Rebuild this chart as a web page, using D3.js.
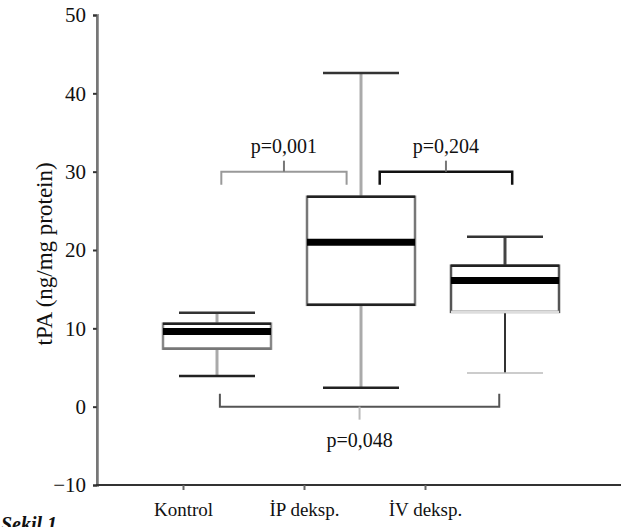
<!DOCTYPE html>
<html>
<head>
<meta charset="utf-8">
<script src="https://cdn.jsdelivr.net/npm/d3@7"></script>
<style>
  body { margin: 0; background: #fff; }
  text { font-family: "Liberation Serif", "Times New Roman", serif; }
</style>
</head>
<body>
<div id="chart"></div>
<script>
// data
let groups = ["Kontrol", "İP deksp.", "İV deksp."]
let whiskerLow = [3.9, 2.4, 4.3]
let q1 = [7.4, 13.0, 12.1]
let median = [9.6, 21.0, 16.1]
let q3 = [10.6, 26.8, 18.0]
let whiskerHigh = [12.0, 42.6, 21.7]
let yTicks = [-10, 0, 10, 20, 30, 40, 50]

// brackets: from group index a to b at level y, label text
let bracketFrom = [0.03, 1.13, 0.02]
let bracketTo = [0.9, 2.05, 1.96]
let bracketY = [30, 30, 0]
let bracketLabels = ["p=0,001", "p=0,204", "p=0,048"]

var width = 621, height = 527

var svg = d3.select("#chart").append("svg")
    .attr("width", width)
    .attr("height", height)

var y = d3.scaleLinear().domain([-10, 50]).range([485, 15])
// category labels sit under the ticks
var xLab = d3.scalePoint().domain(groups).range([183, 425])
// boxes are drawn shifted to the right of the ticks
var xBox = d3.scaleLinear().domain([0, 2]).range([217, 505])

var boxW = 108, capW = 76

// y axis
var yAxis = svg.append("g")
    .attr("transform", "translate(97,0)")
    .call(d3.axisLeft(y).tickValues(yTicks).tickSize(4).tickPadding(7).tickFormat(d3.format("d")))
yAxis.select(".domain").attr("stroke", "#999").attr("stroke-width", 3)
yAxis.selectAll(".tick line").attr("stroke", "#333").attr("stroke-width", 2)
yAxis.selectAll(".tick text").attr("font-size", 21).attr("fill", "#111")
svg.append("line")
    .attr("x1", 97).attr("x2", 97).attr("y1", y(50)).attr("y2", y(-10))
    .attr("stroke", "#555").attr("stroke-width", 1)

// x axis
var xAxis = svg.append("g")
    .attr("transform", "translate(0," + y(-10) + ")")
    .call(d3.axisBottom(xLab).tickSize(5).tickPadding(13).tickSizeOuter(0))
xAxis.select(".domain").attr("d", "M96,0H621").attr("stroke", "#333").attr("stroke-width", 2)
xAxis.selectAll(".tick line").attr("stroke", "#666").attr("stroke-width", 2)
xAxis.selectAll(".tick text").attr("font-size", 19).attr("fill", "#111")

// axis title
svg.append("text")
    .attr("transform", "translate(52," + y(19.5) + ") rotate(-90)")
    .attr("text-anchor", "middle")
    .attr("font-size", 23)
    .attr("fill", "#111")
    .text("tPA (ng/mg protein)")

// figure caption, clipped at the bottom edge
svg.append("text")
    .attr("x", 1).attr("y", 531)
    .attr("font-size", 20)
    .attr("font-weight", "bold")
    .attr("font-style", "italic")
    .attr("fill", "#111")
    .text("Şekil 1")

var stemColor = ["#aaa", "#aaa", "#444"]
var lowStemColor = ["#aaa", "#aaa", "#333"]
var lowCapColor = ["#222", "#222", "#bbb"]
var boxSide = ["#888", "#777", "#555"]

var boxes = svg.selectAll(".box")
    .data(groups)
    .enter().append("g")
    .attr("class", "box")

// upper whisker
boxes.append("line")
    .attr("x1", (d, i) => xBox(i)).attr("x2", (d, i) => xBox(i))
    .attr("y1", (d, i) => y(whiskerHigh[i])).attr("y2", (d, i) => y(q3[i]))
    .attr("stroke", (d, i) => stemColor[i]).attr("stroke-width", 3)
// lower whisker
boxes.append("line")
    .attr("x1", (d, i) => xBox(i)).attr("x2", (d, i) => xBox(i))
    .attr("y1", (d, i) => y(q1[i])).attr("y2", (d, i) => y(whiskerLow[i]))
    .attr("stroke", (d, i) => lowStemColor[i]).attr("stroke-width", (d, i) => i == 2 ? 2 : 3)
// caps
boxes.append("line")
    .attr("x1", (d, i) => xBox(i) - capW / 2).attr("x2", (d, i) => xBox(i) + capW / 2)
    .attr("y1", (d, i) => y(whiskerHigh[i])).attr("y2", (d, i) => y(whiskerHigh[i]))
    .attr("stroke", "#333").attr("stroke-width", 2.5)
boxes.append("line")
    .attr("x1", (d, i) => xBox(i) - capW / 2).attr("x2", (d, i) => xBox(i) + capW / 2)
    .attr("y1", (d, i) => y(whiskerLow[i])).attr("y2", (d, i) => y(whiskerLow[i]))
    .attr("stroke", (d, i) => lowCapColor[i]).attr("stroke-width", (d, i) => i == 2 ? 1.5 : 2.5)
// box
boxes.append("rect")
    .attr("x", (d, i) => xBox(i) - boxW / 2)
    .attr("width", boxW)
    .attr("y", (d, i) => y(q3[i]))
    .attr("height", (d, i) => y(q1[i]) - y(q3[i]))
    .attr("fill", "#fff")
    .attr("stroke", (d, i) => boxSide[i]).attr("stroke-width", 2.5)
// top / bottom edges
boxes.append("line")
    .attr("x1", (d, i) => xBox(i) - boxW / 2).attr("x2", (d, i) => xBox(i) + boxW / 2)
    .attr("y1", (d, i) => y(q3[i])).attr("y2", (d, i) => y(q3[i]))
    .attr("stroke", "#222").attr("stroke-width", 2.5)
boxes.append("line")
    .attr("x1", (d, i) => xBox(i) - boxW / 2).attr("x2", (d, i) => xBox(i) + boxW / 2)
    .attr("y1", (d, i) => y(q1[i])).attr("y2", (d, i) => y(q1[i]))
    .attr("stroke", (d, i) => i == 2 ? "#ddd" : (i == 0 ? "#777" : "#222")).attr("stroke-width", 2.5)
// median
boxes.append("line")
    .attr("x1", (d, i) => xBox(i) - boxW / 2).attr("x2", (d, i) => xBox(i) + boxW / 2)
    .attr("y1", (d, i) => y(median[i])).attr("y2", (d, i) => y(median[i]))
    .attr("stroke", "#000").attr("stroke-width", 7)

// significance brackets
var bracketColor = ["#999", "#111", "#555"]
var brackets = svg.selectAll(".bracket")
    .data(bracketLabels)
    .enter().append("g")
    .attr("class", "bracket")

brackets.append("path")
    .attr("d", function(d, i) {
        var x0 = xBox(bracketFrom[i]), x1 = xBox(bracketTo[i]), yy = y(bracketY[i])
        var dir = bracketY[i] > 10 ? 1 : -1
        var leg = 13 * dir
        return "M" + x0 + "," + (yy + leg) + "V" + yy + "H" + x1 + "V" + (yy + leg)
    })
    .attr("fill", "none")
    .attr("stroke", (d, i) => bracketColor[i])
    .attr("stroke-width", (d, i) => i == 1 ? 2.5 : 2)

brackets.append("line")
    .attr("x1", (d, i) => (xBox(bracketFrom[i]) + xBox(bracketTo[i])) / 2)
    .attr("x2", (d, i) => (xBox(bracketFrom[i]) + xBox(bracketTo[i])) / 2)
    .attr("y1", (d, i) => y(bracketY[i]))
    .attr("y2", (d, i) => y(bracketY[i]) + (bracketY[i] > 10 ? -11 : 13))
    .attr("stroke", (d, i) => i == 2 ? "#bbb" : "#777")
    .attr("stroke-width", 2)

brackets.append("text")
    .attr("x", (d, i) => (xBox(bracketFrom[i]) + xBox(bracketTo[i])) / 2)
    .attr("y", (d, i) => y(bracketY[i]) + (bracketY[i] > 10 ? -19 : 40))
    .attr("text-anchor", "middle")
    .attr("font-size", 20)
    .attr("fill", "#111")
    .text(d => d)
</script>
</body>
</html>
